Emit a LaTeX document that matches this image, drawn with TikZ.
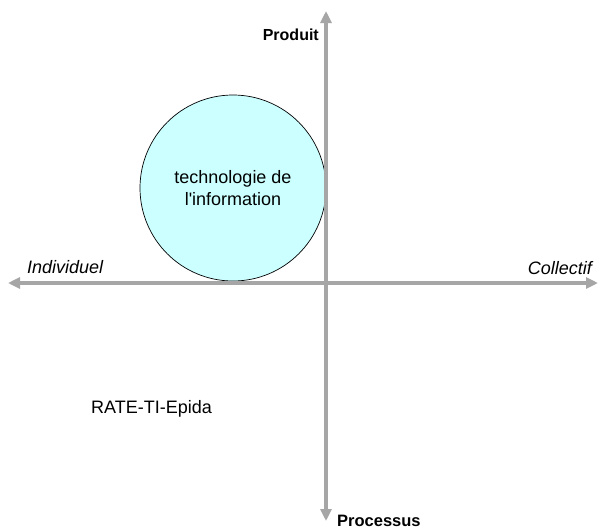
\documentclass[tikz,border=0pt]{standalone}
\usepackage{fontspec}
\setmainfont{Liberation Sans}
\usetikzlibrary{arrows.meta}
\definecolor{axisgray}{RGB}{166,166,166}
\definecolor{bubble}{RGB}{204,255,255}
\tikzset{
  axis/.style={draw=axisgray, line width=4.2pt, -{Triangle[length=12pt,width=11pt]}},
  axlabel/.style={inner sep=0pt, font=\fontsize{18}{22}\selectfont\itshape},
  bold/.style={inner sep=0pt, font=\fontsize{16}{19}\selectfont\bfseries},
  plain/.style={inner sep=0pt, font=\fontsize{18}{22}\selectfont},
  bubblenode/.style={circle, draw=black, line width=0.7pt, fill=bubble, minimum size=186pt, inner sep=0pt, align=center, font=\fontsize{18}{22}\selectfont}
}
\begin{document}
\begin{tikzpicture}[x=1pt,y=-1pt]
\useasboundingbox (0,0) rectangle (600,531);
\fill[white] (0,0) rectangle (600,531);
\coordinate (top) at (326,11);
\coordinate (bottom) at (326,521);
\coordinate (vstart) at (326,283);
\coordinate (left) at (8,283);
\coordinate (right) at (598,283);
\coordinate (hstart) at (326,283);
\node[bubblenode] (tech) at (233,188) {technologie de\\l\textquotesingle information};
\draw[axis] (vstart) -- (top);
\draw[axis] (vstart) -- (bottom);
\draw[axis] (hstart) -- (left);
\draw[axis] (hstart) -- (right);
\node[bold, anchor=base east] (produit) at (319,40) {Produit};
\node[bold, anchor=base west, font=\fontsize{16.5}{20}\selectfont\bfseries] (processus) at (337,526) {Processus};
\node[axlabel, anchor=base west] (indiv) at (27,273) {Individuel};
\node[axlabel, anchor=base east] (coll) at (592,274) {Collectif};
\node[plain, anchor=base west] (rate) at (91,413) {RATE-TI-Epida};
\end{tikzpicture}
\end{document}
